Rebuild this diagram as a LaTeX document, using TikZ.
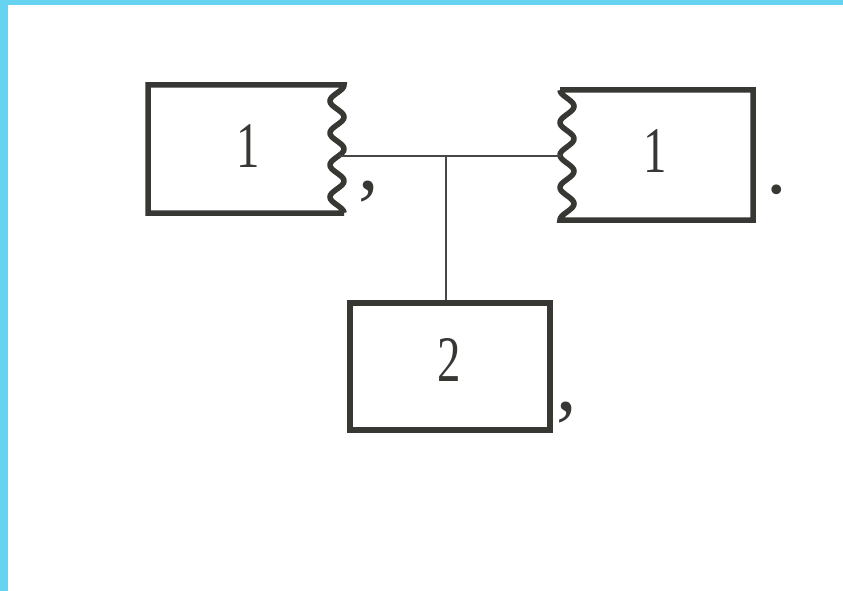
\documentclass[tikz,border=0pt]{standalone}
\usepackage{fontspec}
\setmainfont{Liberation Serif}
\newfontfamily\narrowserif[FakeStretch=0.72]{Liberation Serif}
\definecolor{cyanband}{RGB}{102,212,240}
\definecolor{ink}{RGB}{55,55,52}
\definecolor{thin}{RGB}{70,70,68}
\tikzset{
  boxline/.style={draw=ink, line width=5.5pt, line join=miter},
  wire/.style={draw=thin, line width=1.5pt},
  digit/.style={inner sep=0pt, anchor=base, text=ink, font=\narrowserif\fontsize{65}{65}\selectfont},
  punct/.style={inner sep=0pt, anchor=base, text=ink, font=\fontsize{82}{82}\selectfont}
}
\begin{document}
\begin{tikzpicture}[x=1pt,y=-1pt]
\useasboundingbox (0,0) rectangle (843,591);
\fill[white] (0,0) rectangle (843,591);
\fill[cyanband] (0,0) rectangle (843,5);
\fill[cyanband] (0,0) rectangle (8,591);

% left box with wavy right edge
\draw[boxline] (344,213) -- (148,213) -- (148,85) -- (344,85)
  -- plot[variable=\t, domain=0:1, samples=120, smooth] ({337+7*cos(4*360*\t)}, {85+128*\t});
% right box with wavy left edge
\draw[boxline] (560,90) -- (753,90) -- (753,220) -- (560,220)
  -- plot[variable=\t, domain=1:0, samples=120, smooth] ({567-7*cos(4*360*\t)}, {90+130*\t});
% bottom box
\node[boxline, minimum width=200pt, minimum height=127pt, inner sep=0pt] (B) at (450,366.5) {};

\node[digit] (L1) at (248,167) {1};
\node[digit] (R1) at (655,172) {1};
\node[digit] (B2) at (449,381) {2};

\node[punct] (c1) at (369,189) {,};
\node[punct] (c2) at (567,410) {,};
\node[punct] (p1) at (777,193) {.};

\coordinate (Lw) at (339,156);
\coordinate (Rw) at (561,156);
\coordinate (J) at (446,156);
\draw[wire] (Lw) -- (Rw);
\draw[wire] (J) -- (J |- B.north);
\end{tikzpicture}
\end{document}
